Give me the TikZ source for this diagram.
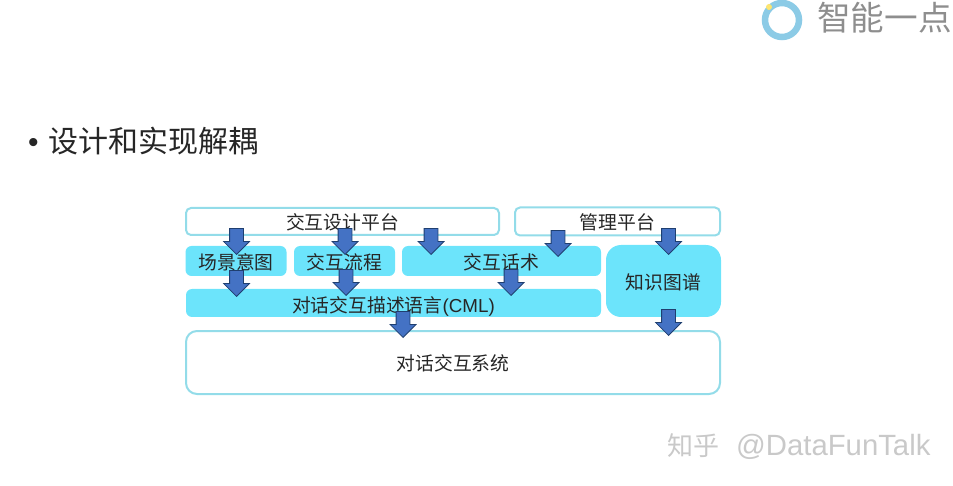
\documentclass[tikz,border=0pt]{standalone}
\usepackage{fontspec}
\setmainfont{Noto Sans CJK SC}
\newfontfamily\latinsans{Liberation Sans}
\usetikzlibrary{shapes.arrows}
\definecolor{boxfill}{HTML}{6CE4FB}
\definecolor{boxline}{HTML}{93DCE9}
\definecolor{arrowfill}{HTML}{4472C4}
\definecolor{arrowline}{HTML}{1F3F70}
\definecolor{ringblue}{HTML}{8CCBE6}
\definecolor{logogray}{HTML}{8E8E8E}
\definecolor{markgray}{HTML}{C9C9C9}
\newcommand{\shaftfill}{\phantom{\rule{13pt}{13pt}}}
\newcommand{\lowered}[2]{\raisebox{-#1pt}[\height][\depth]{#2}}
\tikzset{
  label font/.style={font=\fontsize{18.8}{20}\selectfont, text=black!85, inner sep=0pt},
  whitebox/.style={label font, draw=boxline, line width=2pt, fill=white, rounded corners=5pt},
  whitebig/.style={whitebox, rounded corners=11pt},
  cyanbox/.style={label font, fill=boxfill, rounded corners=6pt},
  cyanbig/.style={label font, fill=boxfill, rounded corners=15pt},
  downarrow/.style={single arrow, shape border rotate=270, draw=arrowline, line width=0.8pt,
    fill=arrowfill, inner sep=0pt, minimum height=26pt, minimum width=25pt,
    single arrow head extend=6pt, single arrow head indent=0pt, anchor=tip}
}
\begin{document}
\begin{tikzpicture}[x=1pt,y=-1pt]
\useasboundingbox (0,0) rectangle (953,486);
% slide title
\node[anchor=west, inner sep=0pt, font=\fontsize{30}{32}\selectfont, text=black!85] (title) at (28,141)
  {\makebox[20pt][l]{\latinsans •}设计和实现解耦};
% boxes
\node[whitebox, minimum width=313pt, minimum height=27pt] (design) at (342.5,221.5) {\lowered{1}{交互设计平台}};
\node[whitebox, minimum width=205pt, minimum height=28pt] (manage) at (617.5,221.5) {\lowered{1}{管理平台}};
\node[cyanbox, minimum width=101pt, minimum height=30pt] (scene) at (236,261) {\lowered{1}{场景意图}};
\node[cyanbox, minimum width=101pt, minimum height=30pt] (flow) at (344.5,261) {\lowered{1}{交互流程}};
\node[cyanbox, minimum width=199pt, minimum height=30pt] (speech) at (501.5,261) {\lowered{1}{交互话术}};
\node[cyanbig, minimum width=115pt, minimum height=72pt] (kg) at (663.5,281) {\lowered{1}{知识图谱}};
\node[cyanbox, minimum width=415pt, minimum height=28pt] (cml) at (393.5,303) {\lowered{3}{对话交互描述语言{\latinsans (CML)}}};
\node[whitebig, minimum width=534pt, minimum height=63pt] (system) at (453,362.5) {\lowered{1}{对话交互系统}};
% block arrows
\node[downarrow] (a1) at (236.5,255) {\shaftfill};
\node[downarrow] (a2) at (345,255) {\shaftfill};
\node[downarrow] (a3) at (431,255) {\shaftfill};
\node[downarrow] (a4) at (558,257) {\shaftfill};
\node[downarrow] (a5) at (668.5,255) {\shaftfill};
\node[downarrow] (a6) at (236.5,297) {\shaftfill};
\node[downarrow] (a7) at (346,296) {\shaftfill};
\node[downarrow] (a8) at (511,296) {\shaftfill};
\node[downarrow] (a9) at (403,338) {\shaftfill};
\node[downarrow] (a10) at (668.5,336) {\shaftfill};
% logo
\draw[ringblue, line width=6.5pt] (782,20) circle (17pt);
\fill[yellow!70!orange!55] (769,7) circle (3pt);
\node[anchor=west, inner sep=0pt, font=\fontsize{33.6}{35}\selectfont, text=logogray] (logo) at (817,18) {智能一点};
% watermark
\node[anchor=west, inner sep=0pt, font=\fontsize{26}{28}\selectfont, text=markgray] (mark) at (667,447) {知乎\hspace{17pt}{\fontsize{29.3}{30}\selectfont\latinsans @DataFunTalk}};
\end{tikzpicture}
\end{document}
